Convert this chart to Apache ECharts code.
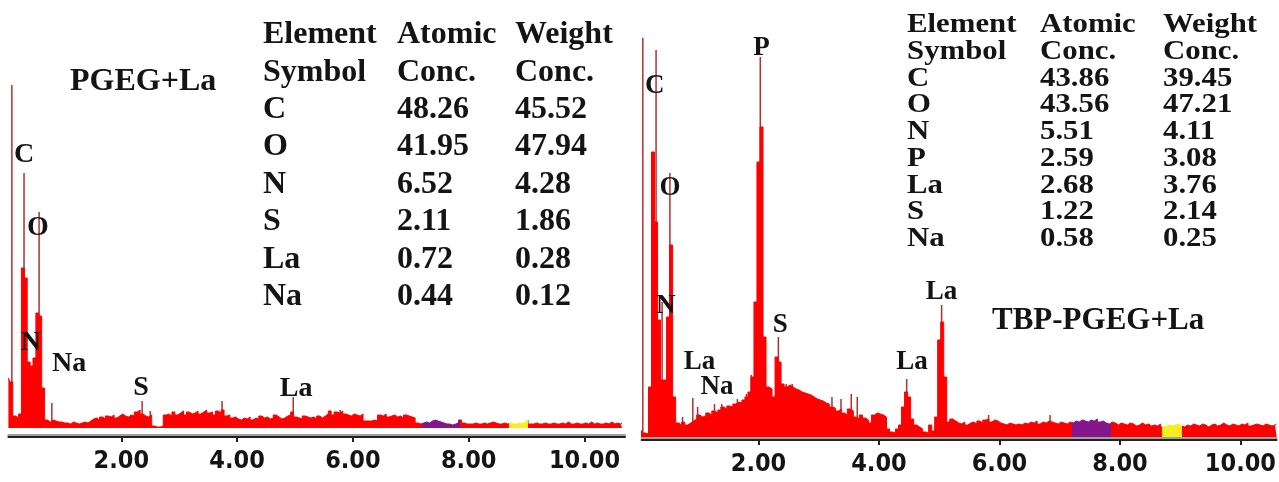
<!DOCTYPE html>
<html style="height: 100%">
<head>
<meta charset="utf-8">
</head>
<body style="height: 100%; margin: 0; background: #fff">
<div id="container" style="width: 1279px; height: 482px"></div>
<script src="https://cdn.jsdelivr.net/npm/echarts@6/dist/echarts.min.js"></script>
<script type="text/javascript">
// channel width of both EDS spectra (keV), channel 1 = 0.05 keV
var channelStep = 0.05;
var tickValues = [2, 4, 6, 8, 10];

// ---- PGEG+La (left) ----
var pgegCounts = [
  50, 46, 12, 10, 14, 160, 150, 66, 62, 70, 115, 112, 40, 8, 6, 8, 7, 6, 6, 5,
  5, 4, 6, 5, 4, 5, 6, 5, 7, 9, 10, 8, 11, 9, 12, 11, 13, 10, 12, 14,
  12, 11, 13, 12, 16, 18, 14, 12, 11, 13, 2, 1, 1, 2, 13, 14, 12, 16, 13, 15,
  17, 13, 16, 14, 15, 17, 14, 16, 18, 15, 16, 13, 17, 15, 18, 12, 13, 10, 11, 9,
  8, 10, 9, 11, 8, 10, 9, 12, 10, 11, 9, 10, 13, 11, 9, 10, 12, 13, 16, 11,
  10, 9, 12, 11, 10, 11, 9, 12, 10, 12, 14, 17, 13, 16, 15, 17, 14, 13, 12, 14,
  13, 12, 14, 7, 7, 7, 8, 7, 13, 12, 14, 11, 12, 13, 11, 12, 10, 13, 12, 11,
  10, 5, 4, 5, 6, 5, 7, 8, 7, 6, 5, 4, 4, 3, 4, 5, 8, 5, 4, 4,
  4, 5, 4, 4, 5, 4, 5, 6, 5, 4, 4, 5, 4, 5, 4, 4, 5, 4, 6, 8,
  4, 4, 5, 4, 4, 5, 4, 4, 5, 4, 4, 5, 4, 6, 4, 4, 5, 4, 4, 5,
  4, 6, 4, 5, 4, 4, 5, 4, 6, 4, 5, 4, 5
];
// single-channel lines [keV, counts]
var pgegLines = [[0.11, 343], [0.32, 255], [0.58, 216], [0.80, 25], [2.36, 27],
  [2.50, 17], [3.74, 27], [4.97, 31], [5.78, 18]];
var pgegPeakLabels = [['C', 0.32, 273], ['O', 0.56, 200], ['N', 0.44, 85],
  ['Na', 1.10, 64], ['S', 2.34, 40], ['La', 5.02, 39]];
var pgegTable = [
  ['Element', 'Atomic', 'Weight'],
  ['Symbol', 'Conc.', 'Conc.'],
  ['C', '48.26', '45.52'],
  ['O', '41.95', '47.94'],
  ['N', '6.52', '4.28'],
  ['S', '2.11', '1.86'],
  ['La', '0.72', '0.28'],
  ['Na', '0.44', '0.12']
];

// ---- TBP-PGEG+La (right) ----
var tbpCounts = [
  7, 4, 3, 50, 285, 215, 117, 57, 57, 120, 192, 40, 14, 12, 15, 12, 14, 16, 18, 22,
  20, 21, 24, 22, 26, 24, 27, 30, 28, 31, 30, 33, 35, 34, 37, 40, 45, 60, 135, 275,
  310, 100, 50, 48, 40, 80, 75, 53, 50, 52, 50, 48, 47, 45, 44, 43, 42, 40, 38, 37,
  36, 34, 33, 30, 29, 26, 28, 24, 22, 28, 26, 20, 18, 22, 19, 17, 14, 22, 24, 23,
  22, 20, 8, 5, 4, 8, 12, 30, 45, 40, 18, 12, 10, 8, 5, 4, 12, 6, 20, 97,
  115, 60, 15, 18, 16, 14, 13, 15, 12, 14, 15, 13, 16, 14, 17, 18, 15, 17, 16, 14,
  13, 12, 14, 13, 12, 13, 12, 14, 13, 15, 14, 16, 13, 15, 14, 16, 15, 14, 13, 15,
  14, 13, 15, 14, 16, 15, 17, 16, 15, 17, 16, 18, 15, 16, 14, 13, 15, 14, 12, 14,
  13, 12, 14, 13, 11, 12, 14, 12, 13, 11, 12, 11, 13, 10, 11, 12, 11, 12, 13, 11,
  10, 12, 11, 13, 12, 11, 13, 12, 10, 12, 13, 11, 12, 14, 12, 11, 13, 12, 11, 13,
  12, 14, 11, 12, 13, 12, 11, 13, 12, 11, 12, 13
];
var tbpLines = [[0.08, 399], [0.30, 387], [0.40, 135], [0.53, 264], [0.74, 20],
  [0.91, 39], [0.99, 30], [1.27, 33], [1.39, 33], [1.65, 38], [1.80, 43], [1.88, 62],
  [2.03, 380], [2.33, 100], [2.46, 53], [2.56, 53], [3.22, 40], [3.37, 38], [3.54, 43],
  [3.64, 40], [4.46, 58], [5.04, 132], [5.82, 22], [6.84, 22]];
var tbpPeakLabels = [['C', 0.28, 351], ['O', 0.53, 249], ['P', 2.05, 389],
  ['N', 0.46, 131], ['La', 1.02, 75], ['Na', 1.31, 50], ['S', 2.36, 112],
  ['La', 4.55, 75], ['La', 5.04, 145]];
var tbpTable = [
  ['Element', 'Atomic', 'Weight'],
  ['Symbol', 'Conc.', 'Conc.'],
  ['C', '43.86', '39.45'],
  ['O', '43.56', '47.21'],
  ['N', '5.51', '4.11'],
  ['P', '2.59', '3.08'],
  ['La', '2.68', '3.76'],
  ['S', '1.22', '2.14'],
  ['Na', '0.58', '0.25']
];

var serif = "'Liberation Serif', 'Times New Roman', serif";
var narrow = "'Liberation Sans Narrow', 'DejaVu Sans Condensed', 'Arial Narrow', 'Liberation Sans', sans-serif";
var ink = '#141414';

function toSpectrum(counts) {
  var res = [];
  for (var i = 0; i < counts.length; i++) {
    res.push([+((i + 1) * channelStep).toFixed(2), counts[i]]);
  }
  return res;
}

function xAxisOf(gridIndex, min, max, offset) {
  return {
    gridIndex: gridIndex, type: 'value', min: min, max: max, offset: offset,
    axisLine: { onZero: false, lineStyle: { color: '#222', width: 2, shadowColor: '#a0a0a0', shadowOffsetY: -2 } },
    axisTick: { customValues: tickValues, length: 5, lineStyle: { color: '#222', width: 2 } },
    axisLabel: {
      customValues: tickValues, margin: 12, color: ink, fontSize: 25, fontWeight: 'bold', fontFamily: narrow,
      formatter: function (v) { return v.toFixed(2); }
    },
    splitLine: { show: false }
  };
}

function peakMarks(list, size) {
  return {
    symbol: 'rect', symbolSize: 1, silent: true,
    itemStyle: { color: 'rgba(0,0,0,0)' },
    label: { show: true, position: 'inside', formatter: '{b}', color: ink, fontSize: size, fontWeight: 'bold', fontFamily: serif },
    data: list.map(function (p) { return { name: p[0], coord: [p[1], p[2]] }; })
  };
}

function tableText(rows, cols, top, step, size, sx) {
  var out = [];
  rows.forEach(function (row, r) {
    row.forEach(function (txt, c) {
      out.push({
        type: 'text', x: cols[c], y: top + r * step, scaleX: sx,
        style: { text: txt, fill: ink, fontSize: size, fontWeight: 'bold', fontFamily: serif, verticalAlign: 'middle', align: 'left' }
      });
    });
  });
  return out;
}

var graphics = []
  .concat(tableText(pgegTable, [263, 397, 515], 35, 37.4, 32, 1))
  .concat(tableText(tbpTable, [907, 1040, 1163], 25, 26.75, 28, 1.1))
  .concat([
    { type: 'text', x: 70, y: 82, style: { text: 'PGEG+La', fill: ink, fontSize: 32, fontWeight: 'bold', fontFamily: serif, verticalAlign: 'middle' } },
    { type: 'text', x: 992, y: 321, style: { text: 'TBP-PGEG+La', fill: ink, fontSize: 31, fontWeight: 'bold', fontFamily: serif, verticalAlign: 'middle' } }
  ]);

var roiPieces = [
  { lt: 7.2, color: '#ff0000' },
  { gte: 7.2, lt: 7.85, color: '#82168a' },
  { gte: 7.85, lt: 8.7, color: '#ff0000' },
  { gte: 8.7, lt: 9.03, color: '#f7ef1c' },
  { gte: 9.03, color: '#ff0000' }
];

var myChart = echarts.init(document.getElementById('container'), null, { renderer: 'canvas' });
var option = {
  backgroundColor: '#ffffff',
  animation: false,
  grid: [
    { left: 8.4, top: 8, width: 616.6, height: 420 },
    { left: 641.6, top: 17, width: 637.7, height: 420 }
  ],
  xAxis: [xAxisOf(0, 0.05, 10.7, 9), xAxisOf(1, 0.06, 10.6, 3)],
  yAxis: [
    { gridIndex: 0, type: 'value', min: 0, max: 420, show: false },
    { gridIndex: 1, type: 'value', min: 0, max: 420, show: false }
  ],
  visualMap: {
    show: false, type: 'piecewise', dimension: 0, seriesIndex: [0, 2], pieces: roiPieces
  },
  graphic: graphics,
  series: [
    {
      type: 'line', xAxisIndex: 0, yAxisIndex: 0, step: 'middle', symbol: 'none',
      lineStyle: { width: 1 }, areaStyle: { opacity: 1 },
      data: toSpectrum(pgegCounts), markPoint: peakMarks(pgegPeakLabels, 28)
    },
    {
      type: 'bar', xAxisIndex: 0, yAxisIndex: 0, barWidth: 1.5,
      itemStyle: { color: '#b3302c' }, data: pgegLines
    },
    {
      type: 'line', xAxisIndex: 1, yAxisIndex: 1, step: 'middle', symbol: 'none',
      lineStyle: { width: 1 }, areaStyle: { opacity: 1 },
      data: toSpectrum(tbpCounts), markPoint: peakMarks(tbpPeakLabels, 27)
    },
    {
      type: 'bar', xAxisIndex: 1, yAxisIndex: 1, barWidth: 1.5,
      itemStyle: { color: '#b3302c' }, data: tbpLines
    }
  ]
};
myChart.setOption(option);
</script>
</body>
</html>
